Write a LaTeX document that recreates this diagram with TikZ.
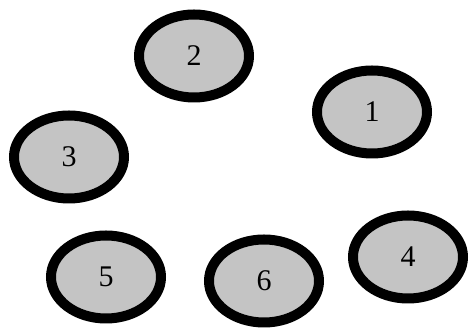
\documentclass[tikz,border=0pt]{standalone}
\usepackage{fontspec}
\setmainfont{Liberation Serif}
\usetikzlibrary{shapes.geometric}
\definecolor{cellgray}{RGB}{196,196,196}
\begin{document}
\begin{tikzpicture}[x=1pt,y=1pt,
  cell/.style={ellipse, draw=black, fill=cellgray, line width=10pt,
    minimum width=110pt, minimum height=83pt, inner sep=0pt,
    font=\fontsize{30}{30}\selectfont}]
\useasboundingbox (0,0) rectangle (469,328);
\node[cell] (n2) at (194,272) {2};
\node[cell] (n1) at (372,216) {1};
\node[cell] (n3) at (69,171) {3};
\node[cell] (n5) at (106,51) {5};
\node[cell] (n6) at (264,47) {6};
\node[cell] (n4) at (408,71) {4};
\end{tikzpicture}
\end{document}
